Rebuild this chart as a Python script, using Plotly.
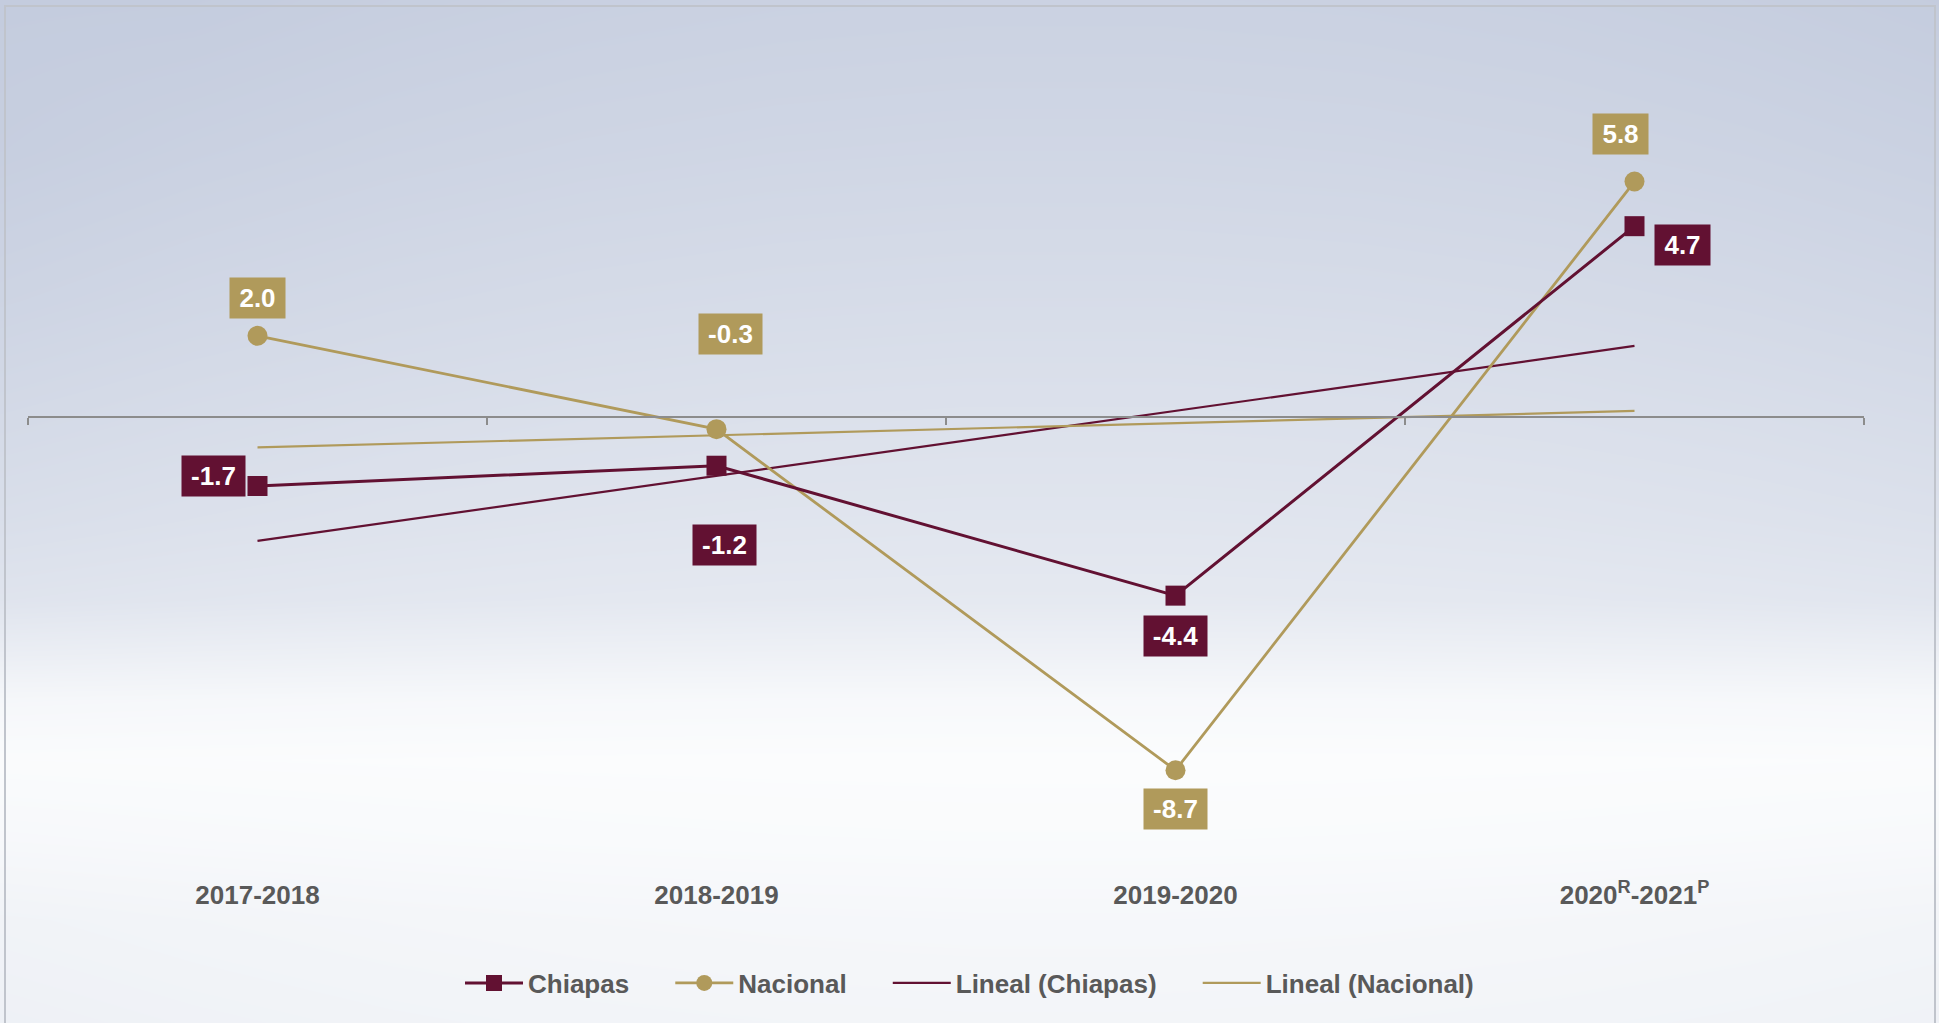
import numpy as np
import plotly.graph_objects as go

# ---------------- data ----------------
categories = ["2017-2018", "2018-2019", "2019-2020", "2020<sup>R</sup>-2021<sup>P</sup>"]
chiapas = [-1.7, -1.2, -4.4, 4.7]
nacional = [2.0, -0.3, -8.7, 5.8]
series_names = ["Chiapas", "Nacional", "Lineal (Chiapas)", "Lineal (Nacional)"]

# ---------------- style ----------------
W, H = 1939, 1023
MAROON = "#621132"
GOLD = "#B09A5B"
AXIS_GRAY = "#8C8C8C"
TEXT_GRAY = "#595959"
FONT = "Liberation Sans, Arial, sans-serif"

PX_ZERO = 417          # pixel row of the zero line
PX_PER_UNIT = 40.6     # pixels per percentage point
PX_TOP, PX_BOT = 40, 900
X_LEFT, X_RIGHT = 28, 1864
NBSP = "\u00a0"
LEG_PAD = NBSP * 5     # extra gap after a legend entry

# label offsets (dx, dy in screen pixels, dy positive = down)
chiapas_off = [(-44, -10), (8, 79), (0, 40), (48, 19)]
nacional_off = [(0, -38), (14, -95), (0, 39), (-14, -48)]

# linear trend lines (least squares, like Excel "Lineal")
idx = np.arange(len(categories))
c_fit = np.polyval(np.polyfit(idx, chiapas, 1), idx)
n_fit = np.polyval(np.polyfit(idx, nacional, 1), idx)

fig = go.Figure()

# ---------------- background gradient (decorative) ----------------
rows_px = np.array([0, 150, 300, 420, 520, 600, 650, 700, 760, 840, 920, 1023])
rows_t = np.array([0.12, 0.22, 0.34, 0.44, 0.52, 0.6, 0.76, 0.93, 1.0, 0.97, 0.9, 0.85])
rows_w = np.array([1.0, 1.0, 1.0, 0.9, 0.8, 0.6, 0.4, 0.2, 0.1, 0.3, 0.5, 0.5])
cols = np.linspace(0, 1, 11)
edge = 0.14 * (np.abs(cols - 0.55) * 2) ** 2
z = np.clip(rows_t[:, None] - rows_w[:, None] * edge[None, :], 0, 1)
by = 1 - rows_px / H
order = np.argsort(by)
fig.add_trace(go.Heatmap(
    x=cols, y=by[order], z=z[order], zmin=0, zmax=1, zsmooth="best",
    colorscale=[[0, "rgb(196,204,222)"], [1, "rgb(251,252,253)"]],
    showscale=False, hoverinfo="skip", xaxis="x", yaxis="y"))

# ---------------- trend lines ----------------
fig.add_trace(go.Scatter(x=categories, y=c_fit, mode="lines", name=series_names[2] + LEG_PAD,
                         line=dict(color=MAROON, width=2.2), xaxis="x2", yaxis="y2",
                         legendrank=3))
fig.add_trace(go.Scatter(x=categories, y=n_fit, mode="lines", name=series_names[3],
                         line=dict(color=GOLD, width=2.2), xaxis="x2", yaxis="y2",
                         legendrank=4))

# ---------------- data series ----------------
fig.add_trace(go.Scatter(x=categories, y=nacional, mode="lines+markers", name=series_names[1] + LEG_PAD,
                         line=dict(color=GOLD, width=2.8),
                         marker=dict(symbol="circle", size=20, color=GOLD),
                         xaxis="x2", yaxis="y2", legendrank=2))
fig.add_trace(go.Scatter(x=categories, y=chiapas, mode="lines+markers", name=series_names[0] + LEG_PAD,
                         line=dict(color=MAROON, width=3),
                         marker=dict(symbol="square", size=20, color=MAROON),
                         xaxis="x2", yaxis="y2", legendrank=1))

# ---------------- data labels ----------------
def add_labels(values, offs, color):
    for cat, v, (dx, dy) in zip(categories, values, offs):
        txt = f"{v:.1f}"
        fig.add_annotation(
            x=cat, y=v, xref="x2", yref="y2", text=txt, showarrow=False,
            xshift=dx, yshift=-dy, bgcolor=color, borderpad=3,
            width=49 if len(txt) == 3 else 57, height=34,
            font=dict(family=FONT, size=26, color="white", weight="bold"))

add_labels(chiapas, chiapas_off, MAROON)
add_labels(nacional, nacional_off, GOLD)

# ---------------- frame ----------------
fig.add_shape(type="rect", xref="paper", yref="paper",
              x0=5 / W, x1=1935 / W, y0=-0.01, y1=1 - 6 / H,
              line=dict(color="rgb(192,196,204)", width=2), layer="above")

fig.update_layout(
    width=W, height=H,
    margin=dict(l=0, r=0, t=0, b=0),
    paper_bgcolor="#EEF1F6",
    plot_bgcolor="rgba(0,0,0,0)",
    font=dict(family=FONT),
    xaxis=dict(domain=[0, 1], range=[0, 1], visible=False, fixedrange=True),
    yaxis=dict(domain=[0, 1], range=[0, 1], visible=False, fixedrange=True),
    xaxis2=dict(domain=[X_LEFT / W, X_RIGHT / W], anchor="free",
                position=1 - PX_ZERO / H, type="category",
                categoryorder="array", categoryarray=categories,
                range=[-0.5, len(categories) - 0.5],
                showline=True, linecolor=AXIS_GRAY, linewidth=2,
                ticks="outside", tickson="boundaries", ticklen=7,
                tickcolor=AXIS_GRAY, tickwidth=2, showgrid=False,
                tickfont=dict(family=FONT, size=26, color=TEXT_GRAY, weight="bold"),
                ticklabelstandoff=455),
    yaxis2=dict(domain=[1 - PX_BOT / H, 1 - PX_TOP / H], anchor="x2",
                range=[-(PX_BOT - PX_ZERO) / PX_PER_UNIT, (PX_ZERO - PX_TOP) / PX_PER_UNIT],
                visible=False, showgrid=False, zeroline=False),
    legend=dict(orientation="h", x=0.5, xanchor="center", y=1 - 983 / H,
                yanchor="middle", bgcolor="rgba(0,0,0,0)",
                font=dict(family=FONT, size=26, color=TEXT_GRAY, weight="bold"),
                itemwidth=58),
    showlegend=True,
)

fig.write_html(
    "out.html",
    config={"displayModeBar": False},
    post_script="document.body.style.margin='0px';document.body.style.padding='0px';"
                "document.body.style.overflow='hidden';",
)
